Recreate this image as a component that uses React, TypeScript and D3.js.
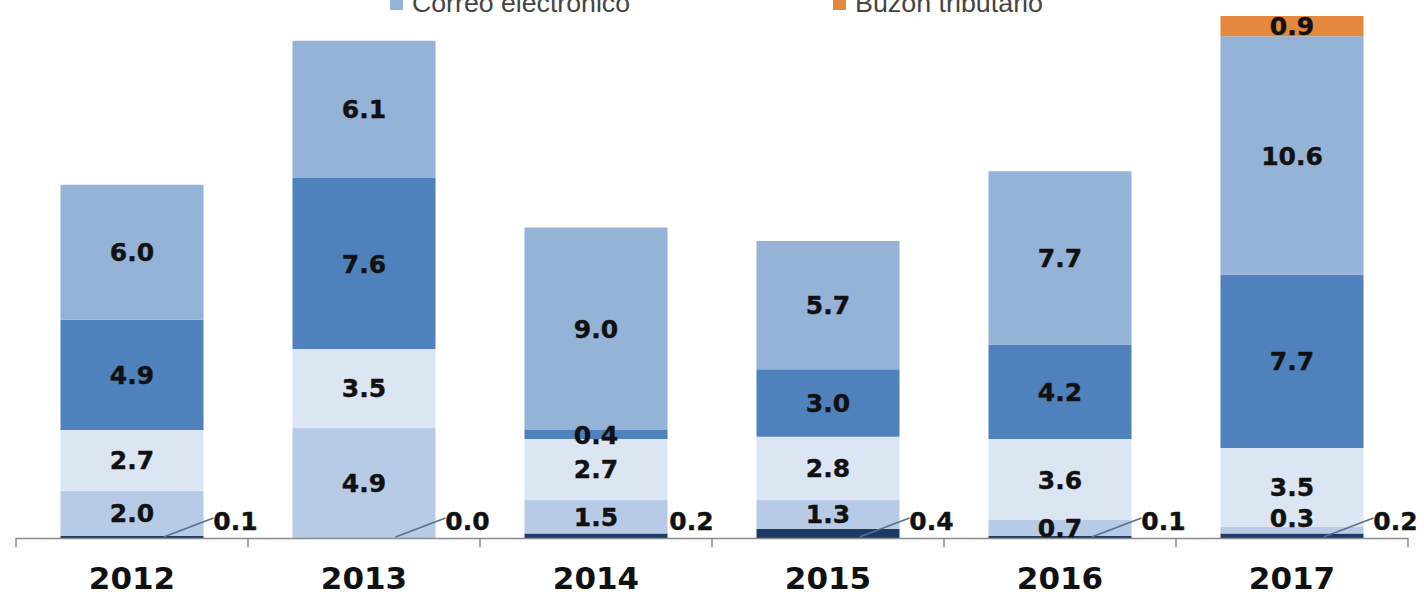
import React from "react";
import * as d3 from "d3";

const years = ["2012", "2013", "2014", "2015", "2016", "2017"];
const seriesNames = ["Serie 1", "Serie 2", "Serie 3", "Serie 4", "Correo electrónico", "Buzón tributario"];
const serie1 = [0.1, 0.0, 0.2, 0.4, 0.1, 0.2];
const serie2 = [2.0, 4.9, 1.5, 1.3, 0.7, 0.3];
const serie3 = [2.7, 3.5, 2.7, 2.8, 3.6, 3.5];
const serie4 = [4.9, 7.6, 0.4, 3.0, 4.2, 7.7];
const correo = [6.0, 6.1, 9.0, 5.7, 7.7, 10.6];
const buzon = [0, 0, 0, 0, 0, 0.9];
const seriesValues = [serie1, serie2, serie3, serie4, correo, buzon];
const colors = ["#1c3a66", "#b7cbe6", "#dce6f2", "#4f81bd", "#95b3d7", "#e4883e"];

const W = 1424;
const H = 595;
const axisY = 538;
const pxPerUnit = 22.5;

export default function App() {
  const x = d3.scaleBand<string>().domain(years).range([16, 1408]).paddingInner(0.3836).paddingOuter(0.1918);
  const yMax = 24;
  const y = d3.scaleLinear().domain([0, yMax]).range([axisY, axisY - yMax * pxPerUnit]);

  const rows = years.map((yr, i) => {
    const r: any = { year: yr };
    seriesNames.forEach((s, k) => (r[s] = seriesValues[k][i]));
    return r;
  });
  const stacked = d3.stack<any>().keys(seriesNames)(rows);
  const bw = x.bandwidth();
  const ticks = d3.range(years.length + 1).map((i) => 16 + i * x.step());

  return (
    <svg width={W} height={H} style={{ position: "absolute", left: 0, top: 0, background: "#fff" }}>
      {stacked.map((layer, k) =>
        layer.map((d, i) => {
          const v = seriesValues[k][i];
          if (v === 0 && k !== 0) return null;
          const x0 = x(years[i])!;
          const yTop = y(d[1]);
          const yBot = y(d[0]);
          return <rect key={`r${k}-${i}`} x={x0} y={yTop} width={bw} height={Math.max(0, yBot - yTop)} fill={colors[k]} />;
        })
      )}
      {/* axis */}
      <line x1={16} x2={1408} y1={axisY + 0.5} y2={axisY + 0.5} stroke="#8c8c8c" strokeWidth={1.5} />
      {ticks.map((t, i) => (
        <line key={`t${i}`} x1={t} x2={t} y1={axisY} y2={axisY + 9} stroke="#8c8c8c" strokeWidth={1.5} />
      ))}
      {years.map((yr) => (
        <text key={`xl${yr}`} x={x(yr)! + bw / 2} y={589} textAnchor="middle" fontFamily="DejaVu Sans" fontWeight="bold" fontSize={31} fill="#111">
          {yr}
        </text>
      ))}
      {/* inside labels */}
      {stacked.map((layer, k) =>
        k === 0
          ? null
          : layer.map((d, i) => {
              const v = seriesValues[k][i];
              if (v === 0) return null;
              let cy = (y(d[0]) + y(d[1])) / 2;
              // keep the small bottom label of the tallest stack clear of the label above
              if (k === 1 && v < 0.5) cy = Math.min(cy, axisY - 20);
              return (
                <text key={`l${k}-${i}`} x={x(years[i])! + bw / 2} y={cy} dy="0.36em" textAnchor="middle" fontFamily="DejaVu Sans" fontWeight="bold" fontSize={25} fill="#111" stroke="#111" strokeWidth={0.4}>
                  {v.toFixed(1)}
                </text>
              );
            })
      )}
      {/* outside labels for bottom series with leader lines */}
      {serie1.map((v, i) => {
        const right = x(years[i])! + bw;
        const lx = right + 32;
        const ly = 521;
        return (
          <g key={`o${i}`}>
            {i !== 2 && <line x1={right - 40} y1={axisY - 1} x2={lx - 22} y2={ly - 3} stroke="#5a6f8c" strokeWidth={1.5} />}
            <text x={i === 2 ? right + 24 : lx} y={ly} dy="0.36em" textAnchor="middle" fontFamily="DejaVu Sans" fontWeight="bold" fontSize={25} fill="#111" stroke="#111" strokeWidth={0.4}>
              {v.toFixed(1)}
            </text>
          </g>
        );
      })}
      {/* legend (partially cut at top, as in the source) */}
      <rect x={390} y={-3} width={13} height={13} fill={colors[4]} />
      <text x={412} y={12} fontFamily="Liberation Sans" fontSize={26} fill="#444" textLength={218} lengthAdjust="spacingAndGlyphs">
        {seriesNames[4]}
      </text>
      <rect x={833} y={-3} width={13} height={13} fill={colors[5]} />
      <text x={855} y={12} fontFamily="Liberation Sans" fontSize={26} fill="#444" textLength={188} lengthAdjust="spacingAndGlyphs">
        {seriesNames[5]}
      </text>
    </svg>
  );
}
